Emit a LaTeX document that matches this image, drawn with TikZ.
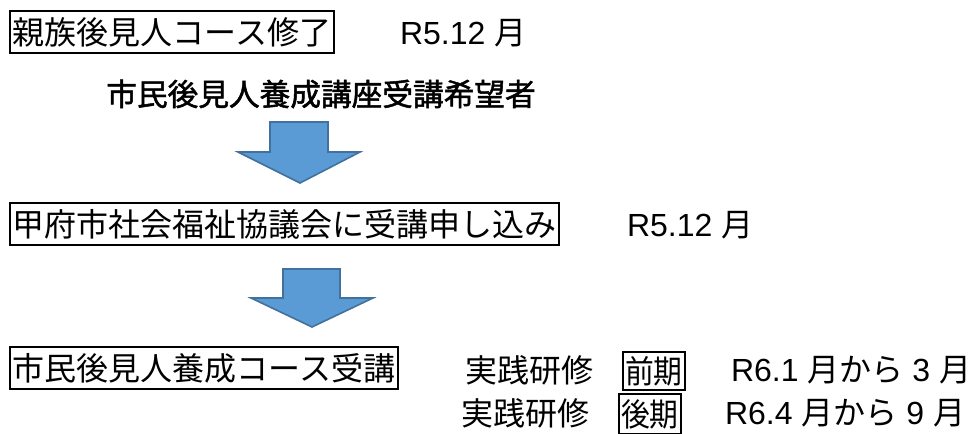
\documentclass[tikz,border=0pt]{standalone}
\usepackage{fontspec}
\setmainfont{Noto Sans CJK JP}
\newfontfamily\lat{Liberation Sans}
\newfontfamily\jpheavy[FakeBold=1.6]{Noto Sans CJK JP}
\newfontfamily\jpnarrow[FakeStretch=0.9]{Noto Sans CJK JP}
\definecolor{arrowblue}{HTML}{5B9BD5}
\definecolor{arrowedge}{HTML}{41719C}
\begin{document}
\begin{tikzpicture}[x=0.75pt,y=-0.75pt,
  every node/.style={inner sep=0pt, outer sep=0pt},
  jp/.style={font=\fontsize{24}{24}\selectfont},
  box/.style={jp, draw=black, line width=1.5pt, inner xsep=2pt, minimum height=31.5pt, anchor=west},
  tagbox/.style={box, font=\fontsize{24}{24}\selectfont\jpnarrow, inner xsep=1.5pt, minimum height=28.5pt},
  lbl/.style={jp, anchor=west},
  barrow/.style={fill=arrowblue, draw=arrowedge, line width=1.2pt, line join=miter}
]
\useasboundingbox (0,0) rectangle (976,433);

\node[box] (b1) at (10,32) {親族後見人コース修了};
\node[lbl] (d1) at (400,33) {{\lat R5.12 }月};
\node[font=\fontsize{23}{23}\selectfont\jpheavy] (w) at (321,94) {市民後見人養成講座受講希望者};

\coordinate (a1) at (300,122);
\draw[barrow] (a1) ++(-30,0) -- ++(58,0) -- ++(0,30) -- ++(32,0) -- ++(-60,31) -- ++(-62,-31) -- ++(32,0) -- cycle;

\node[box] (b2) at (10,224) {甲府市社会福祉協議会に受講申し込み};
\node[lbl] (d2) at (627,225) {{\lat R5.12 }月};

\coordinate (a2) at (312,269);
\draw[barrow] (a2) ++(-29,0) -- ++(57,0) -- ++(0,29) -- ++(33,0) -- ++(-61,29) -- ++(-61,-29) -- ++(32,0) -- cycle;

\node[box] (b3) at (10,368) {市民後見人養成コース受講};
\node[lbl] (p1) at (465,370) {実践研修};
\node[tagbox] (k1) at (623,371) {前期};
\node[lbl] (r1) at (731,370) {{\lat R6.1 }月から{\lat\ 3 }月};

\node[lbl] (p2) at (461,413) {実践研修};
\node[tagbox, minimum height=30pt] (k2) at (619,414) {後期};
\node[lbl] (r2) at (725,413) {{\lat R6.4 }月から{\lat\ 9 }月};
\end{tikzpicture}
\end{document}
